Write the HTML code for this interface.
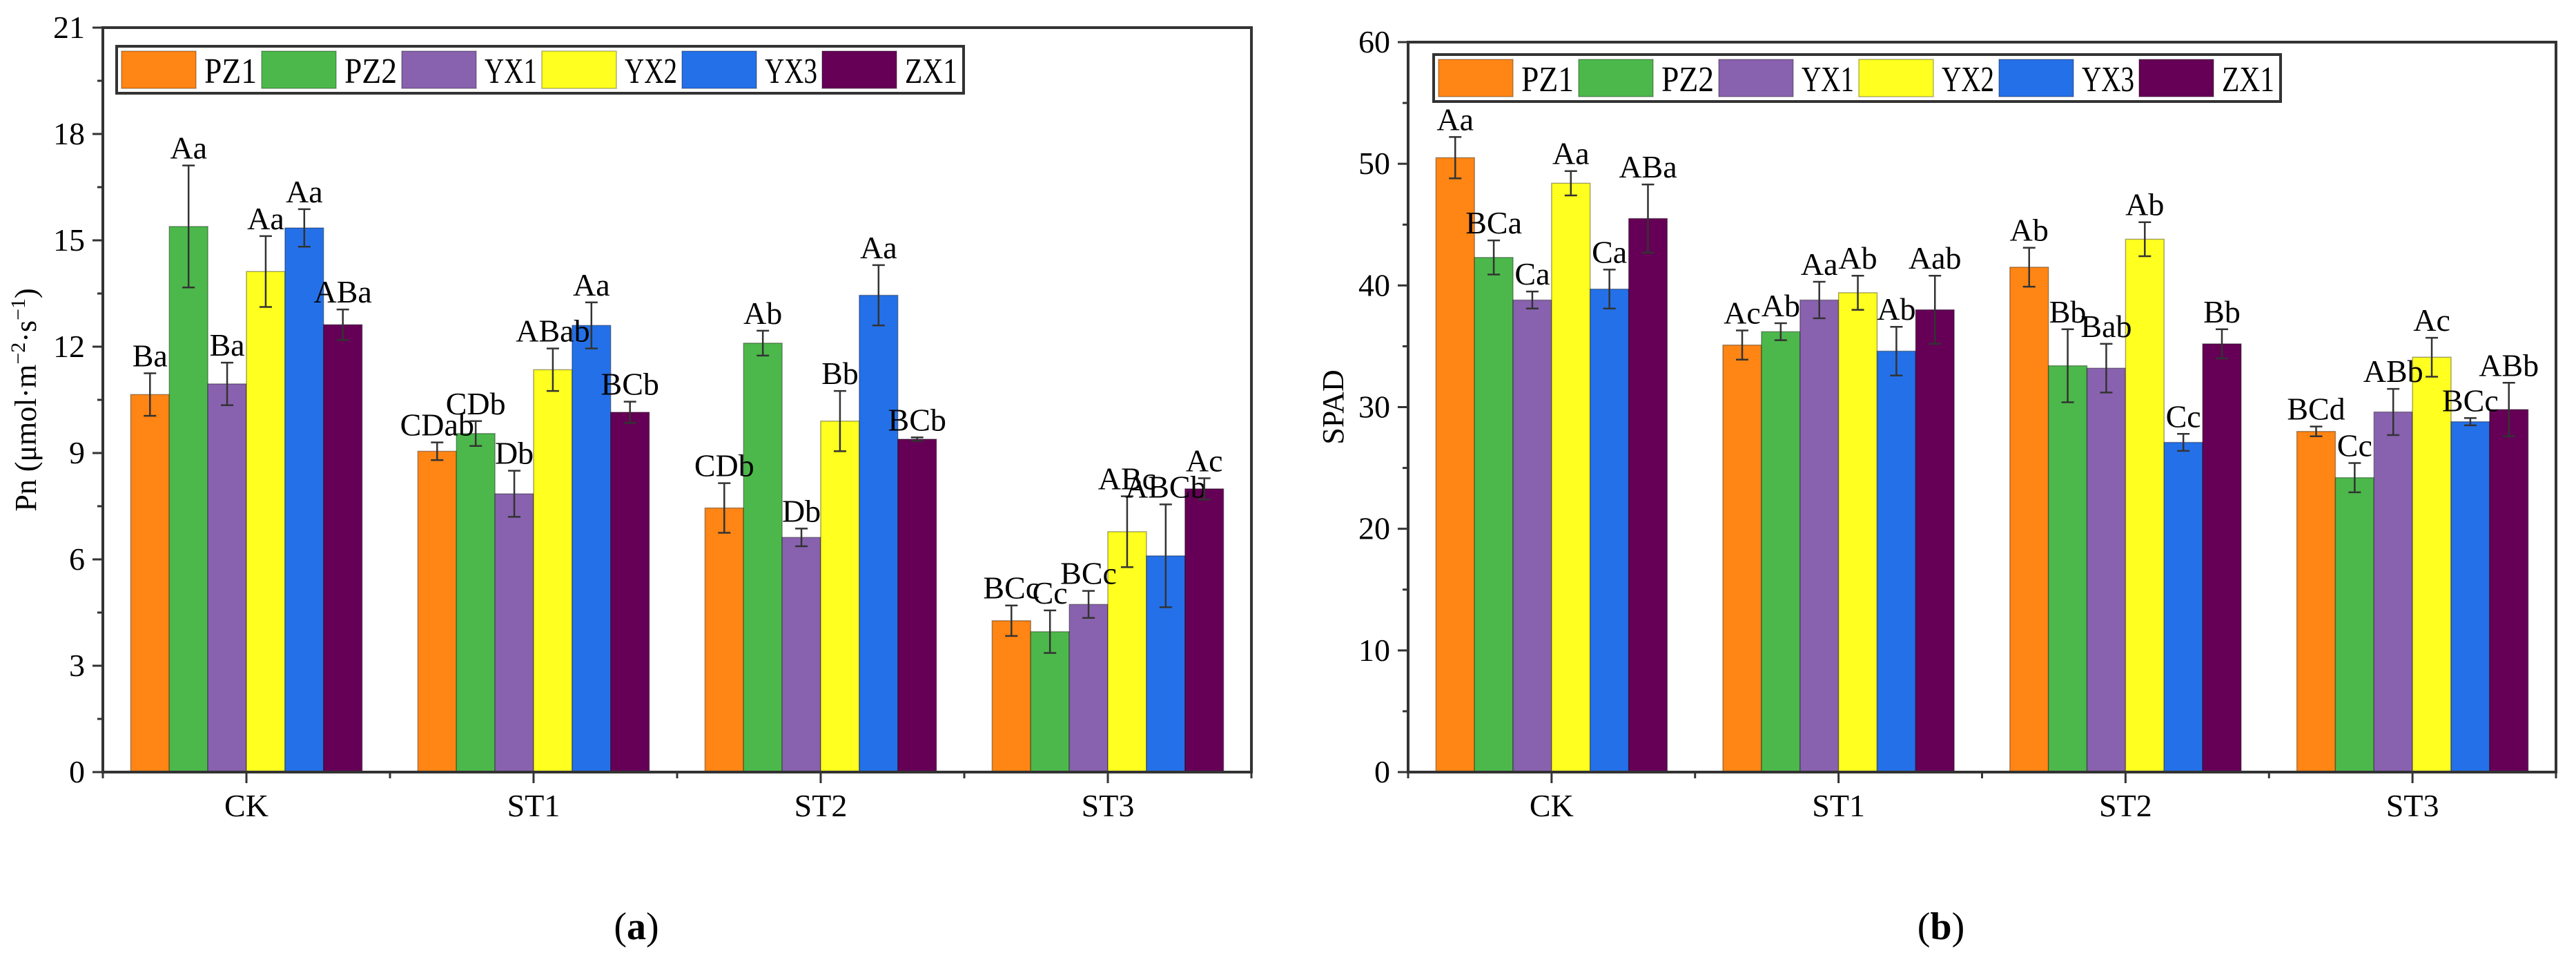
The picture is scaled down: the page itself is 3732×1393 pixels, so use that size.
<!DOCTYPE html>
<html><head><meta charset="utf-8">
<style>
html,body{margin:0;padding:0;background:#fff;}
svg{display:block;font-family:"Liberation Serif","DejaVu Serif",serif;}
</style></head>
<body>
<svg id="fig" width="3732" height="1393" viewBox="0 0 3732 1393" xmlns="http://www.w3.org/2000/svg"></svg>
<script>
const categories = ["CK","ST1","ST2","ST3"];
const seriesNames = ["PZ1","PZ2","YX1","YX2","YX3","ZX1"];
const seriesColors = ["#ff8514","#4cb84b","#8862ae","#ffff20","#2470e8","#650056"];

// Panel (a) Pn
const pnPZ1 = [10.65, 9.05, 7.45, 4.27];
const pnPZ2 = [15.39, 9.55, 12.1, 3.96];
const pnYX1 = [10.95, 7.85, 6.62, 4.73];
const pnYX2 = [14.12, 11.35, 9.9, 6.78];
const pnYX3 = [15.35, 12.6, 13.45, 6.1];
const pnZX1 = [12.62, 10.15, 9.39, 7.99];
const pnErrPZ1 = [0.6, 0.25, 0.7, 0.43];
const pnErrPZ2 = [1.72, 0.35, 0.35, 0.6];
const pnErrYX1 = [0.6, 0.65, 0.25, 0.38];
const pnErrYX2 = [1.0, 0.6, 0.85, 1.0];
const pnErrYX3 = [0.53, 0.65, 0.85, 1.45];
const pnErrZX1 = [0.43, 0.3, 0.05, 0.3];
const pnLabPZ1 = ["Ba","CDab","CDb","BCc"];
const pnLabPZ2 = ["Aa","CDb","Ab","Cc"];
const pnLabYX1 = ["Ba","Db","Db","BCc"];
const pnLabYX2 = ["Aa","ABab","Bb","ABc"];
const pnLabYX3 = ["Aa","Aa","Aa","ABCb"];
const pnLabZX1 = ["ABa","BCb","BCb","Ac"];
const pnTicks = [0,3,6,9,12,15,18,21];

// Panel (b) SPAD
const spPZ1 = [50.5, 35.1, 41.5, 28.0];
const spPZ2 = [42.3, 36.2, 33.4, 24.2];
const spYX1 = [38.8, 38.8, 33.2, 29.6];
const spYX2 = [48.4, 39.4, 43.8, 34.1];
const spYX3 = [39.7, 34.6, 27.1, 28.8];
const spZX1 = [45.5, 38.0, 35.2, 29.8];
const spErrPZ1 = [1.7, 1.2, 1.6, 0.4];
const spErrPZ2 = [1.4, 0.7, 3.0, 1.2];
const spErrYX1 = [0.7, 1.5, 2.0, 1.9];
const spErrYX2 = [1.0, 1.4, 1.4, 1.6];
const spErrYX3 = [1.6, 2.0, 0.7, 0.3];
const spErrZX1 = [2.8, 2.8, 1.2, 2.2];
const spLabPZ1 = ["Aa","Ac","Ab","BCd"];
const spLabPZ2 = ["BCa","Ab","Bb","Cc"];
const spLabYX1 = ["Ca","Aa","Bab","ABb"];
const spLabYX2 = ["Aa","Ab","Ab","Ac"];
const spLabYX3 = ["Ca","Ab","Cc","BCc"];
const spLabZX1 = ["ABa","Aab","Bb","ABb"];
const spTicks = [0,10,20,30,40,50,60];

const NS = "http://www.w3.org/2000/svg";
const svg = document.getElementById("fig");
function el(tag, attrs, parent){
  const e = document.createElementNS(NS, tag);
  for (const k in attrs) e.setAttribute(k, attrs[k]);
  (parent||svg).appendChild(e);
  return e;
}

function panel(cfg){
  const g = el("g", {});
  
  
  const x0 = cfg.x0, x1 = cfg.x1, yTop = cfg.yTop, yBot = cfg.yBot;
  const yScale = v => yBot - (v - 0) / (cfg.max) * (yBot - yTop);
  const step = (x1 - x0) / categories.length;
  const xCenter = i => x0 + step * (i + 0.5);
  const barW = step * 0.806 / 6;

  for (let s = 0; s < 6; s++){
    for (let i = 0; i < categories.length; i++){
      const v = cfg.vals[s][i];
      const bx = xCenter(i) - 3*barW + s*barW;
      const r = el("rect", {x:bx, y:yScale(v), width:barW, height:yBot - yScale(v), fill:seriesColors[s], stroke:"rgba(0,0,0,0.35)", "stroke-width":1.5}, g);
      
      
    }
  }
  for (let s = 0; s < 6; s++){
    for (let i = 0; i < categories.length; i++){
      const v = cfg.vals[s][i], e = cfg.errs[s][i];
      const cx = xCenter(i) - 3*barW + (s+0.5)*barW;
      const yt = yScale(v + e), yb = yScale(v - e);
      const eg = el("g", {stroke:"#333", "stroke-width":2.5}, g);
      
      
      el("line", {x1:cx, x2:cx, y1:yt, y2:yb}, eg);
      el("line", {x1:cx-9, x2:cx+9, y1:yt, y2:yt}, eg);
      el("line", {x1:cx-9, x2:cx+9, y1:yb, y2:yb}, eg);
      const t = el("text", {x:cx, y:yt - 10, "text-anchor":"middle", "font-size":46, fill:"#000"}, g);
      t.textContent = cfg.labs[s][i];
      
      
    }
  }
  const fr = el("rect", {x:x0, y:yTop, width:x1-x0, height:yBot-yTop, fill:"none", stroke:"#333", "stroke-width":4}, g);
  
  
  const ya = el("g", {}, g);
  
  
  for (let k = 0; k < cfg.ticks.length; k++){
    const v = cfg.ticks[k];
    const y = yScale(v);
    el("line", {x1:x0-15, x2:x0, y1:y, y2:y, stroke:"#333", "stroke-width":3}, ya);
    const t = el("text", {x:x0-26, y:y+15, "text-anchor":"end", "font-size":46}, ya);
    t.textContent = v;
    
    
    if (k < cfg.ticks.length - 1){
      const ym = yScale((v + cfg.ticks[k+1]) / 2);
      el("line", {x1:x0-8, x2:x0, y1:ym, y2:ym, stroke:"#333", "stroke-width":3}, ya);
    }
  }
  const xa = el("g", {}, g);
  
  
  for (let i = 0; i < categories.length; i++){
    const cx = xCenter(i);
    el("line", {x1:cx, x2:cx, y1:yBot, y2:yBot+16, stroke:"#333", "stroke-width":3}, xa);
    el("line", {x1:x0+step*(i+1), x2:x0+step*(i+1), y1:yBot, y2:yBot+9, stroke:"#333", "stroke-width":3}, xa);
    const t = el("text", {x:cx, y:yBot+64, "text-anchor":"middle", "font-size":46}, xa);
    t.textContent = categories[i];
    
    
  }
  el("line", {x1:x0, x2:x0, y1:yBot, y2:yBot+9, stroke:"#333", "stroke-width":3}, xa);
  const yt = el("text", {x:0, y:0, "text-anchor":"middle", "font-size":44, transform:`translate(${cfg.titleX},${(yTop+yBot)/2}) rotate(-90)`}, g);
  yt.innerHTML = cfg.title;
  
  
  const lg = el("g", {}, g);
  
  
  const lx = cfg.legX, ly = cfg.legY, lw = 203, lh = 68;
  el("rect", {x:lx, y:ly, width:lw*6+9, height:lh, fill:"#fff", stroke:"#333", "stroke-width":4}, lg);
  for (let s = 0; s < 6; s++){
    const ex = lx + 7 + s*lw;
    const le = el("g", {}, lg);
    
    
    el("rect", {x:ex, y:ly+7, width:108, height:54, fill:seriesColors[s], stroke:"rgba(0,0,0,0.3)", "stroke-width":1.5}, le);
    const t = el("text", {x:ex+120, y:ly+53, "font-size":52, textLength:76, lengthAdjust:"spacingAndGlyphs"}, le);
    t.textContent = seriesNames[s];
  }
  const pl = el("text", {x:cfg.letterX, y:1360, "text-anchor":"middle", "font-size":56}, svg);
  pl.innerHTML = '(<tspan font-weight="bold">' + cfg.letter + '</tspan>)';
  
  
}

panel({name:"chart-pn", x0:149, x1:1813, yTop:40, yBot:1118, max:21, ticks:pnTicks,
  vals:[pnPZ1,pnPZ2,pnYX1,pnYX2,pnYX3,pnZX1],
  errs:[pnErrPZ1,pnErrPZ2,pnErrYX1,pnErrYX2,pnErrYX3,pnErrZX1],
  labs:[pnLabPZ1,pnLabPZ2,pnLabYX1,pnLabYX2,pnLabYX3,pnLabZX1],
  title:'Pn (μmol·m<tspan dy="-16" font-size="30">−2</tspan><tspan dy="16">·s</tspan><tspan dy="-16" font-size="30">−1</tspan><tspan dy="16">)</tspan>',
  titleX:52, legX:169, legY:67, letter:"a", letterX:922});

panel({name:"chart-spad", x0:2040, x1:3703, yTop:61, yBot:1118, max:60, ticks:spTicks,
  vals:[spPZ1,spPZ2,spYX1,spYX2,spYX3,spZX1],
  errs:[spErrPZ1,spErrPZ2,spErrYX1,spErrYX2,spErrYX3,spErrZX1],
  labs:[spLabPZ1,spLabPZ2,spLabYX1,spLabYX2,spLabYX3,spLabZX1],
  title:'SPAD', titleX:1946, legX:2077, legY:79, letter:"b", letterX:2812});
</script>
</body></html>
